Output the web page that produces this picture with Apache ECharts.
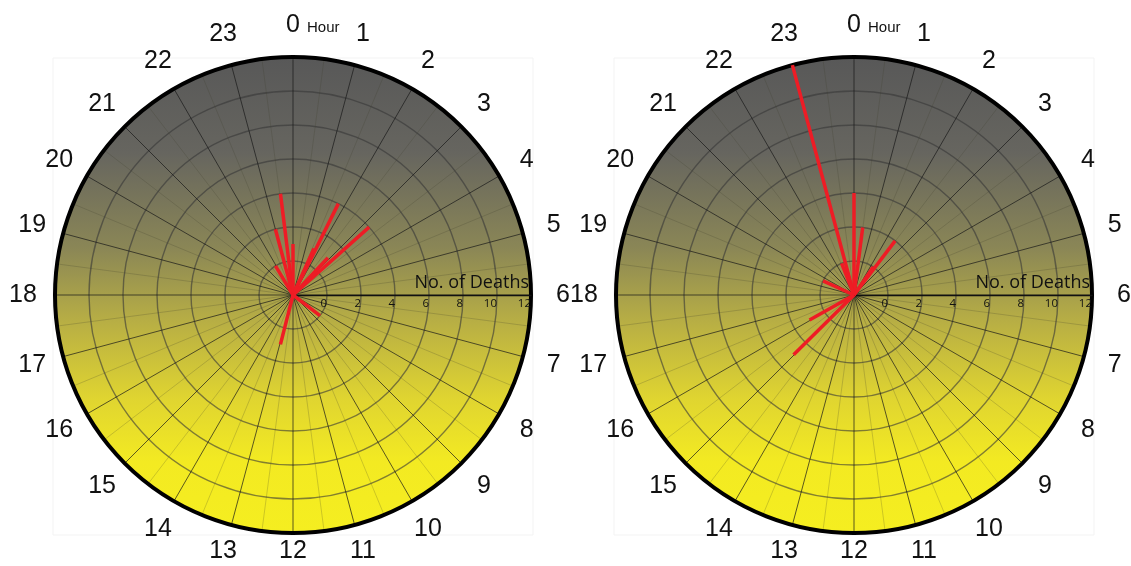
<!DOCTYPE html>
<html>
<head>
<meta charset="utf-8">
<script src="https://cdn.jsdelivr.net/npm/echarts@6/dist/echarts.min.js"></script>
<style>
html,body{margin:0;padding:0;background:#fff;}
#chart{width:1131px;height:566px;}
</style>
</head>
<body>
<div id="chart"></div>
<script>
// ---- data ----
const hourTicks = [0,1,2,3,4,5,6,7,8,9,10,11,12,13,14,15,16,17,18,19,20,21,22,23];
const deathTicks = [0,2,4,6,8,10,12];
// left panel: hour of day (angle) and number of deaths (radius)
const leftHours  = [23.53, 23.0, 21.93, 0.0, 1.76, 3.22, 1.62, 2.88, 8.5, 12.95];
const leftDeaths = [4, 2, 0, 1, 4, 4, 1, 1, 0, 1];
// right panel
const rightHours  = [23.0, 0.0, 0.49, 2.48, 2.29, 22.58, 19.63, 16.05, 15.02];
const rightDeaths = [12, 4, 2, 2, 0, 0, 0, 1, 3];

const radiusLabel = 'No. of Deaths';
const hourName = 'Hour';

// ---- layout ----
const R = 238;
const LABEL_R = 270;
const LABEL_MAX_Y = 551; // keep the bottom hour labels inside the picture
const centers = [[293, 295], [854, 295]];
const LABEL_FONT = 'Liberation Sans, Arial, sans-serif';
const SMALL_FONT = 'Open Sans, Noto Sans, sans-serif';

const chart = echarts.init(document.getElementById('chart'), null, {renderer: 'canvas'});

const polar = [];
const angleAxis = [];
const radiusAxis = [];
const series = [];
const graphics = [];

centers.forEach((c, k) => {
  const pA = polar.length;
  polar.push({center: c, radius: R});        // grid + data
  polar.push({center: c, radius: R});        // horizontal radius axis
  polar.push({center: c, radius: LABEL_R});  // hour labels ring
  // main polar: hour angle axis
  angleAxis.push({
    polarIndex: pA, type: 'value', min: 0, max: 24, interval: 1,
    startAngle: 90, clockwise: true, z: 2,
    axisLine: {show: true, lineStyle: {color: '#000', width: 4}},
    axisTick: {show: false},
    minorTick: {show: false, splitNumber: 2},
    axisLabel: {show: false},
    splitLine: {show: true, lineStyle: {color: 'rgba(25,25,25,0.78)', width: 0.9}},
    minorSplitLine: {show: true, lineStyle: {color: 'rgba(60,60,40,0.28)', width: 0.8}}
  });
  radiusAxis.push({
    polarIndex: pA, type: 'value', min: -2, max: 12, interval: 2, z: 2,
    axisLine: {show: false}, axisTick: {show: false}, axisLabel: {show: false},
    splitLine: {show: true, lineStyle: {color: 'rgba(55,55,55,0.6)', width: 1.4}}
  });
  // secondary polar only for the horizontal radius axis
  angleAxis.push({polarIndex: pA + 1, type: 'value', min: 0, max: 360, startAngle: 0, show: false});
  radiusAxis.push({
    polarIndex: pA + 1, type: 'value', min: -2, max: 12, interval: 2, z: 3,
    axisLine: {show: true, lineStyle: {color: '#111', width: 1.4}},
    axisTick: {show: false},
    splitLine: {show: false},
    axisLabel: {
      show: true, margin: -15, fontSize: 11.5, color: '#111', fontFamily: SMALL_FONT, align: 'right',
      formatter: v => (deathTicks.indexOf(v) >= 0 ? String(v) : '')
    }
  });
  // third polar: ring on which the hour labels are centred
  angleAxis.push({polarIndex: pA + 2, type: 'value', min: 0, max: 24, startAngle: 90, clockwise: true, show: false});
  radiusAxis.push({polarIndex: pA + 2, type: 'value', min: 0, max: 1, show: false});

  series.push({
    type: 'scatter', coordinateSystem: 'polar', polarIndex: pA + 2, z: 6, silent: true,
    symbolSize: 1, itemStyle: {color: 'rgba(0,0,0,0)', opacity: 1},
    data: hourTicks.map(h => {
      const cy = c[1] - LABEL_R * Math.cos(h / 24 * 2 * Math.PI);
      const dy = Math.min(0, LABEL_MAX_Y - cy);
      return dy < 0 ? {value: [1, h], label: {offset: [0, dy]}} : {value: [1, h]};
    }),
    label: {
      show: true, position: 'inside', fontSize: 25, color: '#111', opacity: 1, fontFamily: LABEL_FONT,
      formatter: p => String(p.value[1])
    }
  });

  const hours = k === 0 ? leftHours : rightHours;
  const deaths = k === 0 ? leftDeaths : rightDeaths;
  series.push({
    type: 'custom', coordinateSystem: 'polar', polarIndex: pA, z: 5, clip: false,
    data: hours.map((h, i) => [deaths[i], h]),
    renderItem: (params, api) => {
      const v = api.value(0), h = api.value(1);
      const p0 = api.coord([-2, h]);
      const p1 = api.coord([v, h]);
      return {
        type: 'line',
        shape: {x1: p0[0], y1: p0[1], x2: p1[0], y2: p1[1]},
        style: {stroke: '#ee1c25', lineWidth: 3.5}
      };
    }
  });

  // decorative disk background and frame
  graphics.push({
    type: 'rect', z: -20, silent: true,
    shape: {x: c[0] - 240, y: 58, width: 480, height: 477},
    style: {fill: 'none', stroke: '#f3f3f3', lineWidth: 1}
  });
  graphics.push({
    type: 'circle', z: -10, silent: true,
    shape: {cx: c[0], cy: c[1], r: R},
    style: {
      fill: {
        type: 'linear', x: 0, y: 0, x2: 0, y2: 1,
        colorStops: [
          {offset: 0, color: '#585858'},
          {offset: 0.2, color: '#66655f'},
          {offset: 0.4, color: '#8a8656'},
          {offset: 0.55, color: '#b6ad45'},
          {offset: 0.72, color: '#e0d530'},
          {offset: 0.85, color: '#f3ea22'},
          {offset: 1, color: '#f5ee20'}
        ]
      }
    }
  });
  graphics.push({
    type: 'text', z: 10, silent: true,
    x: c[0] + 14, y: 28,
    style: {text: hourName, font: '15px ' + LABEL_FONT, fill: '#111', textVerticalAlign: 'middle'}
  });
  graphics.push({
    type: 'text', z: 10, silent: true,
    x: c[0] + 236, y: 283,
    style: {text: radiusLabel, font: '18px ' + SMALL_FONT, fill: '#111', textAlign: 'right', textVerticalAlign: 'middle'}
  });
});

chart.setOption({
  animation: false,
  backgroundColor: '#fff',
  polar, angleAxis, radiusAxis, series,
  graphic: {elements: graphics}
});
</script>
</body>
</html>
